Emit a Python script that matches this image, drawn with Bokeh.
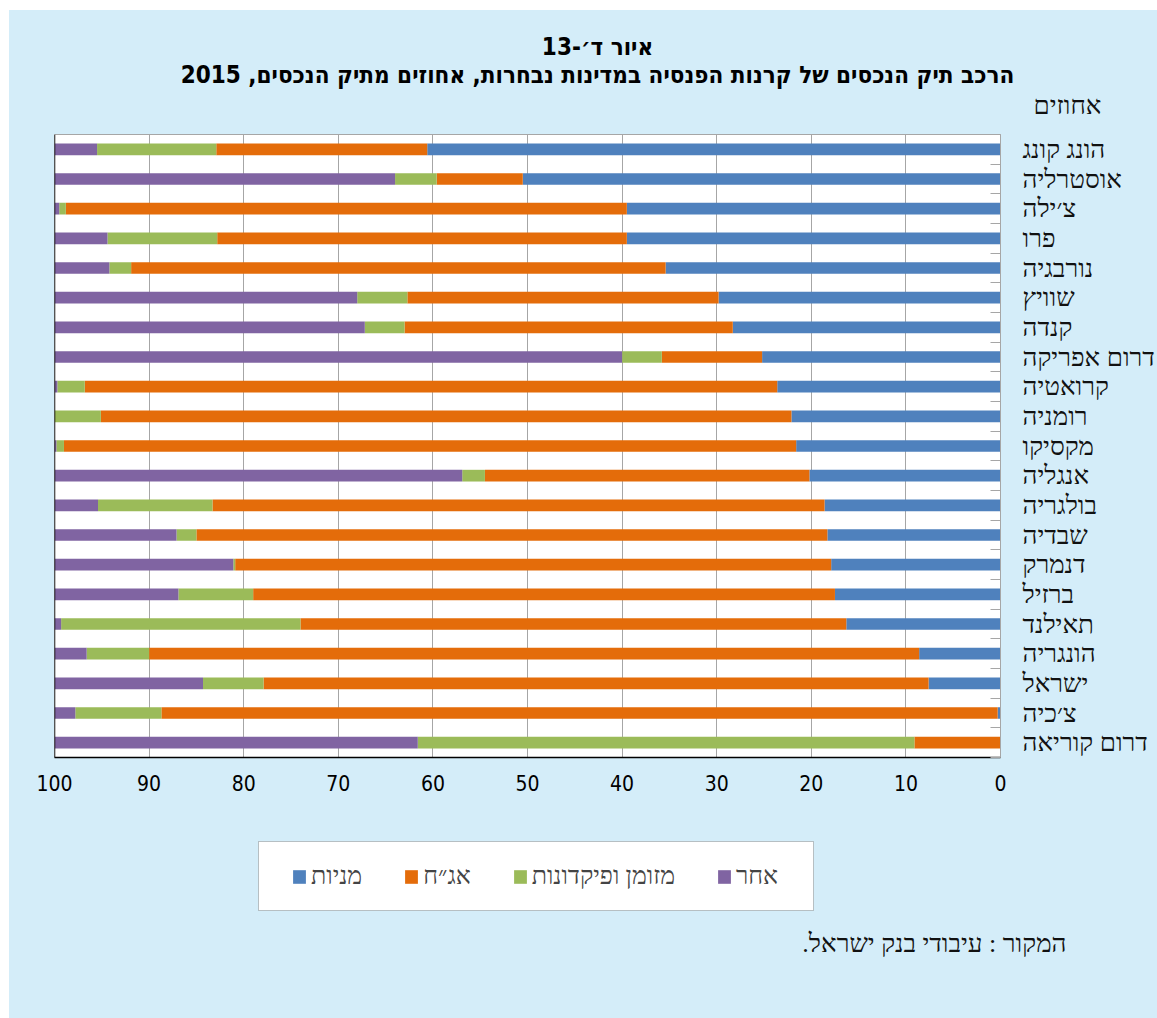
from bokeh.plotting import figure
from bokeh.layouts import column
from bokeh.models import (ColumnDataSource, Range1d, FixedTicker, Legend, LegendItem,
                          Label, Span, BoxAnnotation)
from bokeh.embed import file_html
from bokeh.resources import INLINE

# ---------------- data ----------------
countries = ["הונג קונג", "אוסטרליה", "צ׳ילה", "פרו", "נורבגיה", "שוויץ", "קנדה",
             "דרום אפריקה", "קרואטיה", "רומניה", "מקסיקו", "אנגליה", "בולגריה",
             "שבדיה", "דנמרק", "ברזיל", "תאילנד", "הונגריה", "ישראל", "צ׳כיה",
             "דרום קוריאה"]
stocks = [60.6, 50.5, 39.5, 39.5, 35.4, 29.8, 28.3, 25.2, 23.6, 22.1, 21.6,
          20.2, 18.6, 18.3, 17.9, 17.5, 16.3, 8.6, 7.6, 0.3, 0.0]
bonds = [22.3, 9.1, 59.3, 43.3, 56.5, 32.9, 34.7, 10.6, 73.2, 73.0, 77.4,
         34.3, 64.7, 66.7, 63.0, 61.5, 57.7, 81.4, 70.3, 88.4, 9.1]
cash = [12.6, 4.4, 0.7, 11.6, 2.3, 5.3, 4.2, 4.2, 2.9, 4.9, 0.8,
        2.4, 12.1, 2.1, 0.2, 7.9, 25.3, 6.6, 6.4, 9.1, 52.5]
other = [4.5, 36.0, 0.5, 5.6, 5.8, 32.0, 32.8, 60.0, 0.3, 0.0, 0.2,
         43.1, 4.6, 12.9, 18.9, 13.1, 0.7, 3.4, 15.7, 2.2, 38.4]
series_keys = ["stocks", "bonds", "cash", "other"]
series_names = ["מניות", "אג״ח", "מזומן ופיקדונות", "אחר"]
x_ticks = [0, 10, 20, 30, 40, 50, 60, 70, 80, 90, 100]

title1 = "איור ד׳-13"
title2 = "הרכב תיק הנכסים של קרנות הפנסיה במדינות נבחרות, אחוזים מתיק הנכסים, 2015"
unit_text = "אחוזים"
source_text = "המקור : עיבודי בנק ישראל."

# ---------------- style ----------------
colors = ["#4f81bd", "#e46c0a", "#9bbb59", "#8064a2"]
BG = "#d4edf9"
GRID = "#a6a6a6"
HEB = "Liberation Serif"
RLE, PDF = "\u202b", "\u202c"

W = 1148
TOP_H, MAIN_H, BOT_H = 124, 686, 198
FL, FR, FB = 45, 156, 63
n = len(countries)


def canvas_fig(h):
    f = figure(width=W, height=h, output_backend="svg", toolbar_location=None,
               x_range=Range1d(0, W), y_range=Range1d(h, 0),
               x_axis_location=None, y_axis_location=None, min_border=0,
               frame_align=False)
    f.background_fill_color = BG
    f.border_fill_color = BG
    f.outline_line_color = None
    f.grid.visible = False
    return f


# ---------------- top: titles ----------------
top = canvas_fig(TOP_H)
top.add_layout(Label(x=588, y=36, text=RLE + title1 + PDF, text_align="center",
                     text_baseline="middle", text_font="DejaVu Sans Condensed",
                     text_font_style="bold", text_font_size="24px", text_color="black"))
top.add_layout(Label(x=588, y=64, text=RLE + title2 + PDF, text_align="center",
                     text_baseline="middle", text_font="DejaVu Sans Condensed",
                     text_font_style="bold", text_font_size="24px", text_color="black"))
top.add_layout(Label(x=1058, y=95, text=unit_text, text_align="center",
                     text_baseline="middle", text_font=HEB, text_font_size="26px",
                     text_color="#111111"))

# ---------------- main chart ----------------
pos = [i + 0.5 for i in range(n)]
src = ColumnDataSource(dict(pos=pos, name=countries, stocks=stocks, bonds=bonds,
                            cash=cash, other=other))

p = figure(width=W, height=MAIN_H, output_backend="svg", toolbar_location=None,
           x_range=Range1d(100, 0), y_range=Range1d(n, 0),
           y_axis_location="right", min_border_left=FL, min_border_right=FR,
           min_border_top=0, min_border_bottom=FB, frame_align=False)
p.background_fill_color = "white"
p.border_fill_color = BG
p.outline_line_color = GRID
p.outline_line_width = 1

rs = p.hbar_stack(series_keys, y="pos", height=0.395,
                  color=colors, line_color=None, source=src)

p.ygrid.visible = False
p.xgrid.ticker = FixedTicker(ticks=x_ticks)
p.xgrid.grid_line_color = GRID
p.xgrid.grid_line_width = 1

xa = p.xaxis[0]
xa.ticker = FixedTicker(ticks=x_ticks)
xa.major_tick_in = 0
xa.major_tick_out = 0
xa.minor_tick_in = 0
xa.minor_tick_out = 0
xa.axis_line_color = "black"
xa.axis_line_width = 1.5
xa.major_label_standoff = 17
xa.major_label_text_font = "DejaVu Sans Condensed"
xa.major_label_text_font_size = "21px"
xa.major_label_text_color = "black"

ya = p.yaxis[0]
ya.ticker = FixedTicker(ticks=pos, minor_ticks=[float(i) for i in range(n + 1)])
ya.major_label_overrides = {float(v): c for v, c in zip(pos, countries)}
ya.major_tick_in = 0
ya.major_tick_out = 0
ya.minor_tick_in = 10
ya.minor_tick_out = 0
ya.minor_tick_line_color = GRID
ya.axis_line_color = GRID
ya.major_label_standoff = 22
ya.major_label_text_font = HEB
ya.major_label_text_font_size = "26px"
ya.major_label_text_color = "#111111"

p.add_layout(Span(location=100, dimension="height", line_color="black", line_width=1.5))

# ---------------- bottom: legend + source ----------------
bot = canvas_fig(BOT_H)
bot.add_layout(BoxAnnotation(left=249, right=804, top=21, bottom=90,
                             fill_color="white", fill_alpha=1,
                             line_color="#404040", line_width=1))
# zero-size swatch renderers: only their legend glyphs are visible
dummies = [bot.hbar(y=[0], left=[0], right=[0], height=0, fill_color=c, line_color=None)
           for c in colors]
legend = Legend(items=[LegendItem(label=nm, renderers=[r]) for nm, r in zip(series_names, dummies)],
                location=(282, BOT_H - 56 - 15), orientation="horizontal",
                border_line_color=None, background_fill_alpha=0,
                label_text_font=HEB, label_text_font_size="25px",
                glyph_width=16, glyph_height=17, label_standoff=4, label_height=30,
                spacing=41, padding=0, margin=0)
bot.add_layout(legend, "center")
bot.add_layout(Label(x=1057, y=123, text=RLE + source_text + PDF, text_align="right",
                     text_baseline="middle", text_font=HEB, text_font_size="26px",
                     text_color="#111111"))

layout = column(top, p, bot, spacing=0, margin=(10, 0, 0, 9),
                styles={"background-color": BG})
open("out.html", "w").write(file_html(layout, INLINE))
